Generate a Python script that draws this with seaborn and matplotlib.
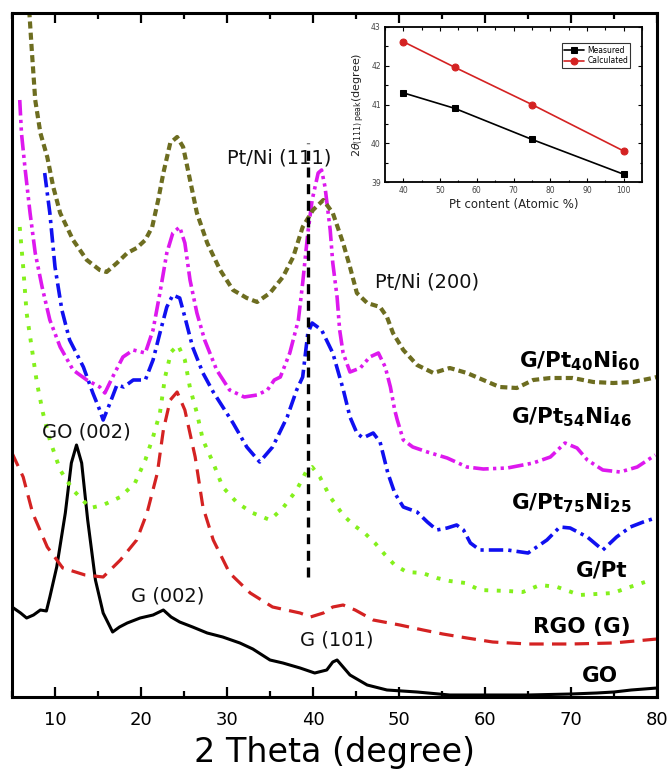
import matplotlib
matplotlib.use("Agg")
import matplotlib.pyplot as plt
from matplotlib.ticker import MultipleLocator
import seaborn as sns

# ==========================
# Data (intensity in arbitrary units)
# ==========================
go_x = [5, 6.0, 6.7, 7.5, 8.3, 9.0, 9.4, 10.2, 11.2, 11.9, 12.5, 13.1, 13.8, 14.7, 15.6, 16.7,
        17.5, 18.4, 19.9, 21.4, 22.6, 23.5, 24.5, 26, 27.7, 29.5, 31.5, 33, 35, 36.5, 38.5,
        40.2, 41.6, 42.3, 42.8, 43.5, 44.3, 46.3, 48.6, 52.1, 55.9, 60, 65, 70, 73, 75, 77, 80]
go_y = [90, 84, 79, 82, 87, 86, 100, 130, 184, 234, 252, 234, 177, 117, 84, 65,
        70, 74, 79, 82, 87, 80, 75, 70, 64, 60, 54, 48, 37, 34, 29,
        24, 27, 35, 37, 30, 22, 12, 7, 5, 2, 2, 2, 3, 4, 5, 7, 9]

rgo_x = [5, 6.3, 7.4, 9.1, 10.9, 13.5, 15.6, 17.6, 19.5, 20.7, 21.9, 22.6, 23.4, 24.2, 25.1,
         26.3, 27.2, 28.4, 30.3, 32.7, 35.3, 38.5, 39.7, 41.2, 42.3, 43.5, 44.9, 47, 50.1,
         52.8, 55.1, 57.9, 60.9, 65, 70, 74.9, 80]
rgo_y = [244, 220, 184, 150, 129, 122, 120, 137, 157, 184, 224, 267, 297, 305, 287,
         240, 190, 157, 124, 104, 90, 84, 80, 84, 90, 92, 87, 77, 72,
         67, 63, 59, 55, 53, 53, 54, 58]

gpt_x = [5.9, 6.3, 6.7, 7.9, 8.6, 9.4, 10.6, 12.1, 14.1, 15.6, 17.6, 19.3, 20.5, 21.4, 22.2,
         22.8, 23.5, 24.3, 25.1, 25.7, 26.5, 27.2, 28.4, 29.5, 31.2, 33, 35, 36.5, 38.1, 39.3,
         39.9, 40.8, 42.0, 43.5, 44.7, 46, 47.2, 48.4, 49.5, 50.9, 52.7, 54.4, 55.9, 57.7,
         59.4, 62.6, 64.4, 66.4, 68.4, 71, 74.9, 76.5, 78.6]
gpt_y = [470, 430, 384, 314, 284, 257, 227, 207, 189, 192, 200, 214, 237, 260, 284,
         320, 345, 352, 337, 309, 284, 257, 234, 210, 194, 184, 177, 189, 207, 227,
         230, 220, 200, 182, 172, 164, 154, 142, 132, 125, 124, 119, 116, 114,
         107, 106, 105, 112, 110, 102, 104, 109, 115]

pt75_x = [8.8, 9.4, 10.0, 10.8, 11.7, 13.3, 14.4, 15.2, 15.6, 16.4, 17.2, 18.0, 19.1, 20.5,
          21.4, 22.2, 23.0, 23.7, 24.5, 25.1, 26.0, 27.2, 28.4, 30.7, 32.3, 33.8, 35.3, 37.0,
          38.1, 38.8, 39.4, 39.9, 41.0, 42.3, 43.5, 44.3, 45.1, 45.8, 47.0, 47.8, 48.7, 49.5,
          50.5, 52.1, 53.3, 54.4, 55.6, 56.7, 57.5, 58.3, 59.4, 62.6, 65.0, 67.2, 68.7, 69.9,
          71.9, 73.7, 75.3, 76.9, 78.4, 79.8]
pt75_y = [524, 484, 430, 387, 357, 330, 304, 287, 277, 294, 312, 310, 317, 317,
          337, 364, 390, 402, 399, 380, 350, 324, 305, 274, 250, 235, 250, 280,
          307, 320, 364, 374, 367, 344, 308, 280, 264, 259, 264, 255, 224, 204,
          190, 185, 175, 167, 169, 172, 167, 154, 147, 147, 144, 157, 170, 169,
          160, 147, 160, 170, 175, 179]

pt54_x = [5.9, 6.1, 6.5, 7.1, 7.7, 8.5, 9.4, 10.6, 12.1, 13.7, 15.2, 15.8, 16.7, 17.9, 19.1,
          20.5, 21.4, 22.2, 23.0, 23.7, 24.5, 25.1, 25.7, 26.5, 27.4, 28.8, 30.3, 32.0, 33.5,
          34.7, 35.5, 36.2, 37.3, 38.3, 38.8, 39.4, 39.9, 40.6, 41.0, 41.4, 42.0, 42.3, 42.8,
          43.1, 43.5, 44.3, 45.5, 46.6, 47.6, 48.4, 49.0, 49.5, 49.8, 50.5, 51.6, 53.3, 55.6,
          57.9, 59.8, 62.6, 65.6, 67.6, 69.3, 70.7, 71.9, 73.7, 75.7, 77.7, 79.8]
pt54_y = [597, 564, 530, 484, 444, 410, 377, 350, 327, 317, 310, 304, 320, 340, 347,
          344, 367, 404, 444, 464, 470, 454, 417, 384, 357, 327, 307, 300, 302,
          307, 317, 320, 344, 377, 414, 464, 497, 524, 527, 510, 467, 434, 400,
          367, 344, 325, 329, 340, 344, 330, 310, 287, 277, 257, 250, 245, 239,
          230, 228, 229, 234, 240, 254, 249, 237, 227, 225, 230, 242]

pt40_x = [6.9, 7.3, 7.7, 8.3, 9.1, 9.8, 10.6, 12.1, 13.7, 15.2, 16.0, 17.2, 18.4, 19.5, 20.5,
          21.3, 22.0, 22.6, 23.4, 24.2, 24.9, 25.7, 26.5, 27.7, 29.2, 30.7, 32.3, 33.5, 35.0,
          36.5, 37.7, 38.8, 40.0, 41.2, 42.3, 43.5, 44.3, 45.1, 46.3, 47.8, 48.6, 49.3, 50.5,
          52.1, 54.0, 55.9, 57.9, 59.8, 61.7, 63.7, 65.6, 67.6, 70.2, 72.6, 74.9, 77.2, 79.5, 80]
pt40_y = [700, 647, 597, 564, 540, 510, 484, 457, 437, 427, 425, 434, 444, 449, 457,
          470, 497, 524, 554, 560, 550, 517, 484, 454, 427, 407, 399, 395, 404,
          420, 440, 470, 487, 497, 484, 454, 430, 404, 394, 390, 380, 364, 347,
          332, 324, 329, 324, 317, 310, 309, 317, 319, 319, 315, 314, 315, 319, 320]

# inset: (111) peak position vs Pt content
pt_content = [40, 54, 75, 100]
peak_measured = [41.3, 40.9, 40.1, 39.2]
peak_calculated = [42.62, 41.96, 41.0, 39.8]

# ==========================
# Figure
# ==========================
sns.set_style("ticks")
plt.rcParams["font.family"] = ["DejaVu Sans"]
plt.rcParams["mathtext.fontset"] = "dejavusans"
plt.rcParams["text.color"] = "black"
plt.rcParams["axes.labelcolor"] = "black"
plt.rcParams["xtick.color"] = "black"
plt.rcParams["ytick.color"] = "black"

fig = plt.figure(figsize=(6.72, 7.70), dpi=100)
ax = fig.add_axes([12 / 672, 73 / 770, 645 / 672, 684 / 770])


def xrd_line(x, y, color, lw, style):
    """Draw one pattern with seaborn, then force the dash pattern on it."""
    sns.lineplot(x=x, y=y, ax=ax, color=color, lw=lw)
    line = ax.lines[-1]
    line.set_linestyle(style)
    line.set_dash_capstyle("butt")


xrd_line(go_x, go_y, "black", 2.2, "-")
xrd_line(rgo_x, rgo_y, "#d42222", 2.3, (0, (4.5, 2.6)))
xrd_line(gpt_x, gpt_y, "#84f01c", 2.8, (0, (1, 2.2)))
xrd_line(pt75_x, pt75_y, "#1010f0", 2.6, (0, (4, 1.4, 0.9, 1.4)))
xrd_line(pt54_x, pt54_y, "#dd18ee", 2.6, (0, (4.3, 1.2, 0.9, 1.2, 0.9, 1.2)))
xrd_line(pt40_x, pt40_y, "#6d6d20", 3.0, (0, (1.7, 1.0)))

# Pt/Ni (111) reference line
ax.plot([39.4, 39.4], [120, 554], color="black", lw=2.4, linestyle=(0, (3, 2)))

ax.set_xlim(5, 80)
ax.set_ylim(0, 684)
ax.set_yticks([])
ax.xaxis.set_minor_locator(MultipleLocator(5))
ax.set_xticks(range(10, 81, 10))
ax.tick_params(axis="x", which="both", direction="in", top=True, bottom=True,
               width=1.6, labelsize=13, pad=10)
ax.tick_params(axis="x", which="major", length=7)
ax.tick_params(axis="x", which="minor", length=4)
for sp in ax.spines.values():
    sp.set_linewidth(2.2)
    sp.set_visible(True)
    sp.set_color("black")
ax.set_xlabel("2 Theta (degree)", fontsize=24, labelpad=5)
ax.set_ylabel("")

# peak annotations
note = dict(fontsize=14, ha="center", va="baseline", color="#111111")
ax.text(36.05, 534, "Pt/Ni (111)", **note)
ax.text(53.3, 409, "Pt/Ni (200)", **note)
ax.text(13.6, 259, "GO (002)", **note)
ax.text(23.1, 96, "G (002)", **note)
ax.text(42.8, 52, "G (101)", **note)

# sample labels
lab = dict(fontsize=15.5, fontweight="bold", ha="right", va="baseline")
ax.text(78.0, 330, r"G/Pt$_{\mathbf{40}}$Ni$_{\mathbf{60}}$", **lab)
ax.text(77.1, 274, r"G/Pt$_{\mathbf{54}}$Ni$_{\mathbf{46}}$", **lab)
ax.text(77.1, 188, r"G/Pt$_{\mathbf{75}}$Ni$_{\mathbf{25}}$", **lab)
ax.text(76.6, 121, "G/Pt", **lab)
ax.text(76.9, 64, "RGO (G)", **lab)
ax.text(75.5, 15, "GO", **lab)

# ==========================
# Inset
# ==========================
axin = fig.add_axes([385 / 672, 588 / 770, 257 / 672, 155 / 770])
sns.lineplot(x=pt_content, y=peak_measured, ax=axin, color="black", lw=1.2,
             marker="s", markersize=5, markeredgecolor="black", label="Measured")
sns.lineplot(x=pt_content, y=peak_calculated, ax=axin, color="#d42222", lw=1.2,
             marker="o", markersize=5, markeredgecolor="#d42222", label="Calculated")
axin.set_xlim(35, 105)
axin.set_ylim(39, 43)
axin.xaxis.set_major_locator(MultipleLocator(10))
axin.xaxis.set_minor_locator(MultipleLocator(5))
axin.yaxis.set_major_locator(MultipleLocator(1))
axin.yaxis.set_minor_locator(MultipleLocator(0.5))
axin.tick_params(which="both", direction="in", top=True, right=True, width=0.8,
                 labelsize=5.5, labelcolor="#444444", pad=3)
axin.tick_params(which="major", length=3)
axin.tick_params(which="minor", length=1.8)
for sp in axin.spines.values():
    sp.set_linewidth(1.3)
    sp.set_visible(True)
    sp.set_color("black")
axin.set_xlabel("Pt content (Atomic %)", fontsize=8.5, labelpad=2, color="#222222")
axin.set_ylabel(r"2$\theta_{(111)\,\mathrm{peak}}$(degree)", fontsize=8, labelpad=3,
                color="#222222")
leg = axin.legend(loc="upper right", bbox_to_anchor=(0.955, 0.895), borderaxespad=0,
                  fontsize=5.5, frameon=True, fancybox=False, edgecolor="black",
                  handlelength=2.6, borderpad=0.3, labelspacing=0.25, handletextpad=0.4)
leg.get_frame().set_linewidth(0.8)

fig.savefig("out.png", dpi=100)
